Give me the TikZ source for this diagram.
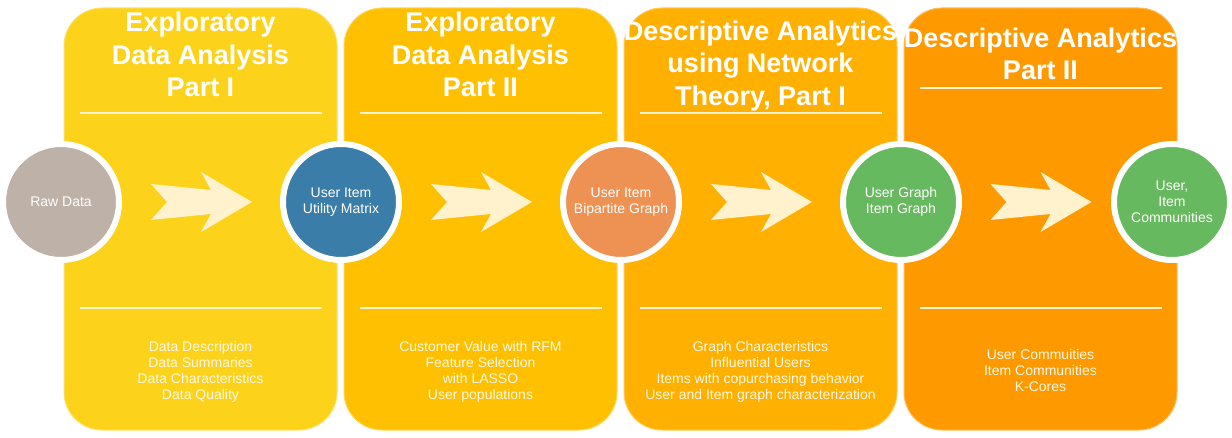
\documentclass[tikz,border=0pt]{standalone}
\usepackage{fontspec}
\setmainfont{Liberation Sans}
\usetikzlibrary{positioning, calc}

\definecolor{panelA}{RGB}{252,210,26}
\definecolor{panelB}{RGB}{254,192,0}
\definecolor{panelC}{RGB}{255,176,0}
\definecolor{panelD}{RGB}{254,154,0}
\definecolor{rawcol}{RGB}{190,178,168}
\definecolor{bluecol}{RGB}{58,125,168}
\definecolor{orangecol}{RGB}{238,146,84}
\definecolor{greencol}{RGB}{102,185,94}
\definecolor{arrowcol}{RGB}{255,242,204}
\definecolor{rulecol}{RGB}{255,243,210}
\definecolor{itemtext}{RGB}{255,248,232}

\tikzset{
  panel/.style={rectangle, rounded corners=38pt, fill=#1, draw=#1!65!white,
    line width=1pt, minimum width=273pt, minimum height=422pt, inner sep=0pt},
  stage/.style={circle, fill=#1, draw=white, line width=6pt, minimum size=116pt,
    inner sep=0pt, text=white, align=center, font=\fontsize{14}{16}\selectfont},
  title/.style={text=white, align=center, font=\bfseries\fontsize{27}{32.5}\selectfont},
  items/.style={text=itemtext, align=center, font=\fontsize{14}{16}\selectfont},
  rule/.style={draw=rulecol, line width=2pt},
  chevron/.pic={
    \fill[arrowcol] (-50,-18) -- (10,-12) -- (0,-30) -- (51,0) -- (0,30)
      -- (10,12) -- (-50,18) -- (-34,0) -- cycle;
  }
}

\begin{document}
\begin{tikzpicture}[x=1pt, y=-1pt]
  \useasboundingbox (0,0) rectangle (1232,438);

  % panels
  \node[panel=panelA] (p1) at (200.5,219) {};
  \node[panel=panelB] (p2) at (480.5,219) {};
  \node[panel=panelC] (p3) at (760.5,219) {};
  \node[panel=panelD] (p4) at (1040.5,219) {};

  \foreach \p/\d in {p1/106, p2/106, p3/106, p4/81} {
    \draw[rule] ($(\p.north west)+(16,\d)$) -- ($(\p.north east)+(-16,\d)$);
    \draw[rule] ($(\p.north west)+(16,301)$) -- ($(\p.north east)+(-16,301)$);
  }

  % headings
  \node[title] (t1) at (200.5,54.5) {Exploratory\\Data Analysis\\Part I};
  \node[title] (t2) at (480.5,54.5) {Exploratory\\Data Analysis\\Part II};
  \node[title] (t3) at (760.5,66) {Descriptive Analytics\\using Network\\Theory, Part I};
  \node[title] (t4) at (1040.5,54) {Descriptive Analytics\\Part II};

  % topics
  \node[items] (i1) at (200.5,372) {Data Description\\Data Summaries\\Data Characteristics\\Data Quality};
  \node[items] (i2) at (480.5,372) {Customer Value with RFM\\Feature Selection\\with LASSO\\User populations};
  \node[items] (i3) at (760.5,372) {Graph Characteristics\\Influential Users\\Items with copurchasing behavior\\User and Item graph characterization};
  \node[items] (i4) at (1040.5,370) {User Commuities\\Item Communities\\K-Cores};

  % stages
  \node[stage=rawcol] (c1) at (61,202) {Raw Data};
  \node[stage=bluecol] (c2) at (341,202) {User Item\\Utility Matrix};
  \node[stage=orangecol] (c3) at (621,202) {User Item\\Bipartite Graph};
  \node[stage=greencol] (c4) at (901,202) {User Graph\\Item Graph};
  \node[stage=greencol] (c5) at (1172,202) {User,\\Item\\Communities};

  \pic at ($(c1.east)!0.5!(c2.west)$) {chevron};
  \pic at ($(c2.east)!0.5!(c3.west)$) {chevron};
  \pic at ($(c3.east)!0.5!(c4.west)$) {chevron};
  \pic at ($(c4.east)!0.5!(c5.west)+(4,0)$) {chevron};
\end{tikzpicture}
\end{document}
